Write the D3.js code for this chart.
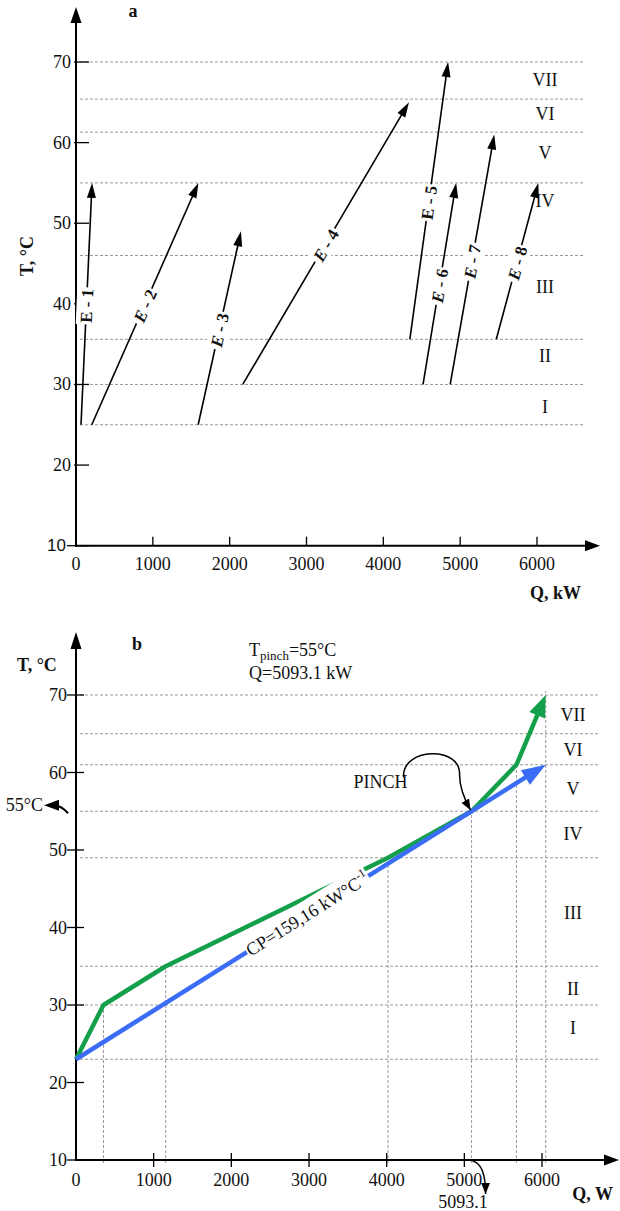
<!DOCTYPE html>
<html>
<head>
<meta charset="utf-8">
<script src="https://cdn.jsdelivr.net/npm/d3@7"></script>
<style>
body { margin: 0; background: #fff; }
svg { display: block; }
text { font-family: "Liberation Serif", "Times New Roman", serif; fill: #111; }
</style>
</head>
<body>
<script>
// ---- panel a : stream arrows
var streamIds = ["1", "2", "3", "4", "5", "6", "7", "8"];
var streamQ0 = [65, 205, 1590, 2170, 4345, 4517, 4870, 5470];
var streamQ1 = [209, 1593, 2147, 4334, 4843, 4948, 5444, 6018];
var streamT0 = [25, 25, 25, 30, 35.6, 30, 30, 35.6];
var streamT1 = [55, 55, 49, 65, 70, 55, 61, 55];

var intervalTempsA = [25, 30, 35.6, 46, 55, 61.3, 65.4, 70];
var regionNames = ["I", "II", "III", "IV", "V", "VI", "VII"];
var regionTempsA = [27.2, 33.5, 42.1, 52.7, 58.7, 63.5, 67.8];

var tempTicks = [10, 20, 30, 40, 50, 60, 70];
var heatTicks = [0, 1000, 2000, 3000, 4000, 5000, 6000];

// ---- panel b : composite curves
var hotQ = [0, 354, 1155, 4018, 5093.1, 5671, 6048];
var hotT = [23, 30, 35, 49, 55, 61, 70];
var coldQ = [0, 6048];
var coldT = [23, 61];
var intervalTempsB = [23, 30, 35, 49, 55, 61, 65, 70];
var regionTempsB = [27.0, 32.1, 41.9, 52.1, 57.9, 62.9, 67.4];
var guideQ = [354, 1155, 4018, 5093.1, 5671, 6048];
var guideT = [30, 35, 48.2, 55, 61, 70.5];
var pinchQ = 5093.1, pinchT = 55, cpLabelQ = 2981;

var green = "#14a04a", blue = "#3a6cf5";
var uprightE = { "1": true, "5": true };
var fs = "18px";

var svg = d3.select("body").append("svg").attr("width", 620).attr("height", 1211);

var defs = svg.append("defs");
defs.append("marker").attr("id", "hd").attr("viewBox", "0 0 10 8")
  .attr("refX", 10).attr("refY", 4).attr("markerUnits", "userSpaceOnUse")
  .attr("markerWidth", 11).attr("markerHeight", 9).attr("orient", "auto")
  .append("path").attr("d", "M0,0L10,4L0,8Z").attr("fill", "#000");

// base point of an arrow head of given length
function headBase(x1, y1, x2, y2, len) {
  var a = Math.atan2(y2 - y1, x2 - x1);
  return [x2 - len * Math.cos(a), y2 - len * Math.sin(a)];
}

function head(g, x1, y1, x2, y2, len, hw, color) {
  var a = Math.atan2(y2 - y1, x2 - x1);
  var bx = x2 - len * Math.cos(a), by = y2 - len * Math.sin(a);
  g.append("path")
    .attr("d", "M" + x2 + "," + y2 + "L" + (bx + hw * Math.sin(a)) + "," + (by - hw * Math.cos(a)) +
      "L" + (bx - hw * Math.sin(a)) + "," + (by + hw * Math.cos(a)) + "Z")
    .attr("fill", color);
}

function arrow(g, x1, y1, x2, y2, len, hw, color, width) {
  var b = headBase(x1, y1, x2, y2, len - 1);
  g.append("line").attr("x1", x1).attr("y1", y1).attr("x2", b[0]).attr("y2", b[1])
    .attr("stroke", color).attr("stroke-width", width);
  head(g, x1, y1, x2, y2, len, hw, color);
}

// text on a rotated white patch
function patchLabel(g, x, y, deg, build, pad) {
  var lg = g.append("g").attr("transform", "translate(" + x + "," + y + ") rotate(" + deg + ")");
  var r = lg.append("rect").attr("fill", "#fff");
  var t = lg.append("text").attr("text-anchor", "middle").attr("dominant-baseline", "central");
  build(t);
  var bb = t.node().getBBox();
  r.attr("x", bb.x - pad).attr("y", bb.y - 0.5).attr("width", bb.width + 2 * pad).attr("height", bb.height + 1);
}

/* ================= panel a ================= */
var xa = d3.scaleLinear().domain([0, 6000]).range([76, 537]);
var ya = d3.scaleLinear().domain([10, 70]).range([545.7, 62]);
var ga = svg.append("g");

ga.selectAll("line.grid").data(intervalTempsA).enter().append("line")
  .attr("x1", 80).attr("x2", 583)
  .attr("y1", function(d) { return ya(d); }).attr("y2", function(d) { return ya(d); })
  .attr("stroke", "#999").attr("stroke-width", 1).attr("stroke-dasharray", "3,2");

ga.selectAll("text.reg").data(regionNames).enter().append("text")
  .attr("x", 545).attr("y", function(d, i) { return ya(regionTempsA[i]); })
  .attr("text-anchor", "middle").attr("dominant-baseline", "central")
  .style("font-size", fs).text(function(d) { return d; });

// axes
ga.append("line").attr("x1", 76).attr("x2", 76).attr("y1", 546.7).attr("y2", 20).attr("stroke", "#000").attr("stroke-width", 2);
head(ga, 76, 40, 76, 7, 16, 5.5, "#000");
ga.append("line").attr("x1", 75).attr("x2", 588).attr("y1", ya(10)).attr("y2", ya(10)).attr("stroke", "#000").attr("stroke-width", 2);
head(ga, 560, ya(10), 600, ya(10), 15, 5.5, "#000");

ga.selectAll("line.yt").data(tempTicks).enter().append("line")
  .attr("x1", function(d) { return d == 10 ? 67 : 74; }).attr("x2", 89)
  .attr("y1", function(d) { return ya(d); }).attr("y2", function(d) { return ya(d); })
  .attr("stroke", "#000").attr("stroke-width", 1.3);
ga.selectAll("text.yt").data(tempTicks).enter().append("text")
  .attr("x", function(d) { return d == 10 ? 66 : 71; }).attr("y", function(d) { return ya(d); })
  .attr("text-anchor", "end").attr("dominant-baseline", "central")
  .style("font-family", function(d) { return d == 10 ? "'Liberation Sans', Arial, sans-serif" : null; })
  .style("font-size", function(d) { return d == 10 ? "17px" : fs; })
  .text(function(d) { return d; });

ga.selectAll("line.xt").data(heatTicks.slice(1)).enter().append("line")
  .attr("x1", function(d) { return xa(d); }).attr("x2", function(d) { return xa(d); })
  .attr("y1", ya(10) - 9).attr("y2", ya(10))
  .attr("stroke", "#000").attr("stroke-width", 1.3);
ga.selectAll("text.xt").data(heatTicks).enter().append("text")
  .attr("x", function(d) { return xa(d); }).attr("y", 570)
  .attr("text-anchor", "middle").style("font-size", fs)
  .text(function(d) { return d; });

ga.append("text").attr("x", 133).attr("y", 17).attr("text-anchor", "middle")
  .style("font-weight", "bold").style("font-size", fs).text("a");
ga.append("text").attr("transform", "translate(27,256) rotate(-90)").attr("text-anchor", "middle")
  .attr("dominant-baseline", "central").style("font-weight", "bold").style("font-size", fs).text("T, °C");
ga.append("text").attr("x", 581).attr("y", 599).attr("text-anchor", "end")
  .style("font-weight", "bold").style("font-size", fs).text("Q, kW");

// stream arrows
streamIds.forEach(function(id, i) {
  var x1 = xa(streamQ0[i]), y1 = ya(streamT0[i]), x2 = xa(streamQ1[i]), y2 = ya(streamT1[i]);
  arrow(ga, x1, y1, x2, y2, 15, 4.5, "#000", 1.6);
  var deg = Math.atan2(y2 - y1, x2 - x1) * 180 / Math.PI;
  patchLabel(ga, (x1 + x2) / 2, (y1 + y2) / 2 + 2, deg, function(t) {
    t.style("font-size", "17px").style("font-weight", "bold");
    t.append("tspan").style("font-style", uprightE[id] ? "normal" : "italic").text("E");
    t.append("tspan").text(" - " + id);
  }, 1.5);
});

/* ================= panel b ================= */
var xb = d3.scaleLinear().domain([0, 6000]).range([76, 542]);
var yb = d3.scaleLinear().domain([10, 70]).range([1160, 695]);
var gb = svg.append("g");

gb.selectAll("line.grid").data(intervalTempsB).enter().append("line")
  .attr("x1", 80).attr("x2", 598)
  .attr("y1", function(d) { return yb(d); }).attr("y2", function(d) { return yb(d); })
  .attr("stroke", "#999").attr("stroke-width", 1).attr("stroke-dasharray", "3,2");

gb.selectAll("line.vg").data(guideQ).enter().append("line")
  .attr("x1", function(d) { return xb(d); }).attr("x2", function(d) { return xb(d); })
  .attr("y1", 1163).attr("y2", function(d, i) { return yb(guideT[i]); })
  .attr("stroke", "#999").attr("stroke-width", 1).attr("stroke-dasharray", "3,2");

gb.selectAll("text.reg").data(regionNames).enter().append("text")
  .attr("x", 573).attr("y", function(d, i) { return yb(regionTempsB[i]); })
  .attr("text-anchor", "middle").attr("dominant-baseline", "central")
  .style("font-size", fs).text(function(d) { return d; });

// axes
gb.append("line").attr("x1", 76).attr("x2", 76).attr("y1", 1161).attr("y2", 645).attr("stroke", "#000").attr("stroke-width", 2);
head(gb, 76, 670, 76, 632, 17, 5.5, "#000");
gb.append("line").attr("x1", 75).attr("x2", 606).attr("y1", yb(10)).attr("y2", yb(10)).attr("stroke", "#000").attr("stroke-width", 2);
head(gb, 580, yb(10), 619, yb(10), 15, 5.5, "#000");

gb.selectAll("line.yt").data(tempTicks).enter().append("line")
  .attr("x1", 67).attr("x2", 84)
  .attr("y1", function(d) { return yb(d); }).attr("y2", function(d) { return yb(d); })
  .attr("stroke", "#000").attr("stroke-width", 1.3);
gb.selectAll("text.yt").data(tempTicks).enter().append("text")
  .attr("x", 67).attr("y", function(d) { return yb(d); })
  .attr("text-anchor", "end").attr("dominant-baseline", "central")
  .style("font-size", fs).text(function(d) { return d; });

gb.selectAll("line.xt").data(heatTicks.slice(1)).enter().append("line")
  .attr("x1", function(d) { return xb(d); }).attr("x2", function(d) { return xb(d); })
  .attr("y1", yb(10) - 7).attr("y2", yb(10) + 7)
  .attr("stroke", "#000").attr("stroke-width", 1.3);
gb.selectAll("text.xt").data(heatTicks).enter().append("text")
  .attr("x", function(d) { return xb(d); }).attr("y", 1186)
  .attr("text-anchor", "middle").style("font-size", fs)
  .text(function(d) { return d; });

gb.append("text").attr("x", 137).attr("y", 650).attr("text-anchor", "middle")
  .style("font-weight", "bold").style("font-size", fs).text("b");
gb.append("text").attr("x", 17).attr("y", 671)
  .style("font-weight", "bold").style("font-size", fs).text("T, °C");
gb.append("text").attr("x", 613).attr("y", 1200).attr("text-anchor", "end")
  .style("font-weight", "bold").style("font-size", fs).text("Q, W");

var tp = gb.append("text").attr("x", 249).attr("y", 656).style("font-size", fs);
tp.append("tspan").text("T");
tp.append("tspan").attr("dy", 4).style("font-size", "13px").text("pinch");
tp.append("tspan").attr("dy", -4).text("=" + pinchT + "°C");
gb.append("text").attr("x", 249).attr("y", 679).style("font-size", fs).text("Q=" + pinchQ + " kW");

// composite curves
var line = d3.line().x(function(d) { return xb(d[0]); }).y(function(d) { return yb(d[1]); });

var hotPts = hotQ.map(function(q, i) { return [q, hotT[i]]; });
var n = hotPts.length;
var hx1 = xb(hotPts[n - 2][0]), hy1 = yb(hotPts[n - 2][1]), hx2 = xb(hotPts[n - 1][0]), hy2 = yb(hotPts[n - 1][1]);
var hb = headBase(hx1, hy1, hx2, hy2, 21);
gb.append("path").datum(hotPts.slice(0, n - 1))
  .attr("d", function(d) { return line(d) + "L" + hb[0] + "," + hb[1]; })
  .attr("fill", "none").attr("stroke", green).attr("stroke-width", 4.5).attr("stroke-linejoin", "round");
head(gb, hx1, hy1, hx2, hy2, 22, 8.5, green);

var cx1 = xb(coldQ[0]), cy1 = yb(coldT[0]), cx2 = xb(coldQ[1]), cy2 = yb(coldT[1]);
var cb = headBase(cx1, cy1, cx2, cy2, 23);
gb.append("path").datum(coldQ.map(function(q, i) { return [q, coldT[i]]; }))
  .attr("d", function(d) { return "M" + xb(d[0][0]) + "," + yb(d[0][1]) + "L" + cb[0] + "," + cb[1]; })
  .attr("fill", "none").attr("stroke", blue).attr("stroke-width", 4.5);
head(gb, cx1, cy1, cx2, cy2, 24, 8.5, blue);

// CP label on the cold curve
var slopeDeg = Math.atan2(cy2 - cy1, cx2 - cx1) * 180 / Math.PI;
var cpT = coldT[0] + cpLabelQ * (coldT[1] - coldT[0]) / (coldQ[1] - coldQ[0]);
patchLabel(gb, xb(cpLabelQ), yb(cpT), slopeDeg, function(t) {
  t.style("font-size", fs);
  t.append("tspan").text("CP=159,16 kW°C");
  t.append("tspan").attr("dy", -6).style("font-size", "12px").text("-1");
}, 1);

// pinch annotations
var px = xb(pinchQ), py = yb(pinchT);
gb.append("text").attr("x", px - 64).attr("y", py - 23).attr("text-anchor", "end")
  .style("font-size", fs).text("PINCH");
gb.append("path")
  .attr("d", "M" + (px - 68) + "," + (py - 34) + "C" + (px - 70) + "," + (py - 64) + " " + (px - 10) + "," + (py - 66) +
    " " + (px - 12) + "," + (py - 36) + "C" + (px - 12) + "," + (py - 22) + " " + (px - 6) + "," + (py - 10) + " " + (px - 1) + "," + (py - 1))
  .attr("fill", "none").attr("stroke", "#000").attr("stroke-width", 1.5).attr("marker-end", "url(#hd)");

gb.append("text").attr("x", 43).attr("y", py - 6).attr("text-anchor", "end").attr("dominant-baseline", "central")
  .style("font-size", fs).text(pinchT + "°C");
gb.append("path")
  .attr("d", "M55," + (py - 6) + "Q62," + (py - 5) + " 68," + (py + 2))
  .attr("fill", "none").attr("stroke", "#000").attr("stroke-width", 2);
head(gb, 60, py - 6, 44, py - 6, 15, 5.5, "#000");

gb.append("text").attr("x", 463).attr("y", 1208).attr("text-anchor", "middle")
  .style("font-size", fs).text(pinchQ);
gb.append("path")
  .attr("d", "M" + (px + 1) + ",1161C" + (px + 10) + ",1163 " + (px + 14) + ",1176 " + (px + 14) + ",1194")
  .attr("fill", "none").attr("stroke", "#000").attr("stroke-width", 1.5).attr("marker-end", "url(#hd)");
</script>
</body>
</html>
